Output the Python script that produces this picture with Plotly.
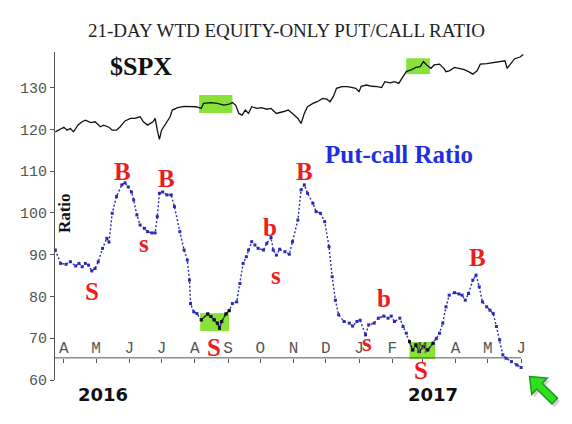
import plotly.graph_objects as go
import pandas as pd

# ---------------- data ----------------
pc_dates = [
    "2016-03-24", "2016-03-29", "2016-04-03", "2016-04-07", "2016-04-12", "2016-04-15",
    "2016-04-18", "2016-04-21", "2016-04-24", "2016-04-27", "2016-04-30", "2016-05-03",
    "2016-05-07", "2016-05-11", "2016-05-13", "2016-05-16", "2016-05-20", "2016-05-25",
    "2016-05-28", "2016-05-31", "2016-06-03", "2016-06-05", "2016-06-08", "2016-06-11",
    "2016-06-15", "2016-06-18", "2016-06-22", "2016-06-25", "2016-06-27", "2016-06-29",
    "2016-07-02", "2016-07-06", "2016-07-10", "2016-07-13", "2016-07-18", "2016-07-22",
    "2016-07-25", "2016-07-27", "2016-07-28", "2016-07-31", "2016-08-03", "2016-08-07",
    "2016-08-13", "2016-08-16", "2016-08-19", "2016-08-22", "2016-08-24", "2016-08-26",
    "2016-08-30", "2016-09-02", "2016-09-05", "2016-09-09", "2016-09-12", "2016-09-15",
    "2016-09-18", "2016-09-20", "2016-09-23", "2016-09-26", "2016-09-29", "2016-10-04",
    "2016-10-07", "2016-10-11", "2016-10-13", "2016-10-16", "2016-10-19", "2016-10-24",
    "2016-10-28", "2016-10-31", "2016-11-05", "2016-11-08", "2016-11-11", "2016-11-14",
    "2016-11-19", "2016-11-22", "2016-11-26", "2016-11-30", "2016-12-04", "2016-12-07",
    "2016-12-10", "2016-12-13", "2016-12-18", "2016-12-23", "2016-12-26", "2016-12-30",
    "2017-01-02", "2017-01-07", "2017-01-10", "2017-01-15", "2017-01-19", "2017-01-24",
    "2017-01-28", "2017-01-31", "2017-02-03", "2017-02-08", "2017-02-11", "2017-02-14",
    "2017-02-17", "2017-02-20", "2017-02-23", "2017-02-26", "2017-03-02", "2017-03-06",
    "2017-03-11", "2017-03-14", "2017-03-17", "2017-03-20", "2017-03-23", "2017-03-26",
    "2017-03-31", "2017-04-04", "2017-04-07", "2017-04-10", "2017-04-13", "2017-04-17",
    "2017-04-20", "2017-04-23", "2017-04-26", "2017-04-30", "2017-05-03", "2017-05-06",
    "2017-05-09", "2017-05-12", "2017-05-15", "2017-05-18", "2017-05-23", "2017-05-28",
    "2017-06-01",
]
pc_values = [
    91.1, 87.9, 87.7, 88.3, 87.3, 87.9,
    87.1, 87.9, 87.5, 86.1, 86.7, 88.3,
    91.5, 93.9, 93.0, 99.9, 103.9, 106.7,
    107.2, 106.2, 105.0, 103.1, 99.5, 97.1,
    96.3, 95.5, 95.2, 95.2, 99.1, 104.7,
    105.0, 104.3, 104.3, 101.5, 95.5, 91.1,
    88.7, 83.9, 78.3, 76.3, 75.9, 74.4,
    75.8, 75.2, 74.4, 73.6, 72.4, 74.0,
    75.8, 76.6, 78.3, 78.7, 83.1, 87.9,
    89.5, 91.1, 93.1, 92.3, 91.5, 91.1,
    92.7, 94.1, 91.1, 89.9, 91.3, 90.7,
    90.1, 93.1, 98.3, 105.5, 106.7, 104.7,
    102.3, 100.3, 99.9, 97.9, 91.9, 84.7,
    79.1, 75.6, 74.0, 73.6, 72.9, 74.0,
    74.3, 70.8, 73.2, 73.6, 74.8, 75.3,
    74.8, 75.3, 74.0, 74.8, 72.8, 71.2,
    69.2, 67.2, 68.4, 66.8, 68.0, 67.2,
    68.8, 69.9, 71.2, 73.6, 77.5, 80.3,
    80.9, 80.6, 80.3, 79.1, 80.7, 83.9,
    85.1, 82.3, 78.7, 77.5, 76.7, 75.9,
    72.8, 69.6, 66.0, 65.2, 64.4, 63.6,
    63.0,
]

spx_dates = [
    "2016-03-24", "2016-03-28", "2016-04-01", "2016-04-04", "2016-04-07", "2016-04-10",
    "2016-04-14", "2016-04-18", "2016-04-21", "2016-04-26", "2016-04-30", "2016-05-05",
    "2016-05-08", "2016-05-13", "2016-05-16", "2016-05-20", "2016-05-23", "2016-05-28",
    "2016-06-02", "2016-06-06", "2016-06-11", "2016-06-14", "2016-06-18", "2016-06-23",
    "2016-06-25", "2016-06-27", "2016-06-29", "2016-07-01", "2016-07-04", "2016-07-07",
    "2016-07-09", "2016-07-11", "2016-07-16", "2016-07-22", "2016-07-28", "2016-08-02",
    "2016-08-07", "2016-08-09", "2016-08-16", "2016-08-22", "2016-08-28", "2016-09-02",
    "2016-09-05", "2016-09-08", "2016-09-11", "2016-09-14", "2016-09-17", "2016-09-20",
    "2016-09-23", "2016-09-28", "2016-10-02", "2016-10-07", "2016-10-11", "2016-10-16",
    "2016-10-22", "2016-10-27", "2016-10-31", "2016-11-05", "2016-11-08", "2016-11-11",
    "2016-11-14", "2016-11-19", "2016-11-23", "2016-11-28", "2016-12-02", "2016-12-05",
    "2016-12-08", "2016-12-11", "2016-12-16", "2016-12-21", "2016-12-26", "2016-12-29",
    "2017-01-01", "2017-01-03", "2017-01-08", "2017-01-13", "2017-01-18", "2017-01-22",
    "2017-01-25", "2017-01-30", "2017-02-03", "2017-02-07", "2017-02-10", "2017-02-14",
    "2017-02-19", "2017-02-23", "2017-02-27", "2017-03-02", "2017-03-05", "2017-03-09",
    "2017-03-12", "2017-03-17", "2017-03-21", "2017-03-23", "2017-03-26", "2017-03-31",
    "2017-04-04", "2017-04-09", "2017-04-13", "2017-04-17", "2017-04-21", "2017-04-24",
    "2017-04-30", "2017-05-06", "2017-05-12", "2017-05-17", "2017-05-19", "2017-05-22",
    "2017-05-26", "2017-05-31", "2017-06-03",
]
spx_values = [
    119.4, 120.0, 120.5, 119.8, 120.2, 119.4,
    121.0, 121.8, 122.2, 121.6, 121.8, 120.6,
    121.0, 120.5, 119.8, 119.8, 120.5, 122.0,
    122.6, 122.6, 123.0, 121.8, 121.0, 121.8,
    122.6, 119.8, 117.6, 119.8, 121.0, 122.2,
    123.0, 124.6, 125.2, 125.5, 125.5, 125.4,
    125.0, 126.2, 126.4, 126.2, 125.8, 126.0,
    126.4, 125.8, 123.8, 123.4, 124.6, 123.8,
    125.4, 125.0, 125.2, 124.8, 125.0, 123.8,
    124.2, 124.6, 123.8, 122.6, 121.4, 123.8,
    125.4, 126.2, 126.6, 127.4, 127.2, 126.6,
    127.8, 129.8, 130.2, 130.2, 130.0, 129.8,
    129.0, 130.3, 130.6, 130.3, 130.2, 130.0,
    131.4, 131.1, 131.4, 131.0, 132.2, 133.8,
    134.3, 134.8, 135.0, 136.2, 135.4, 134.6,
    135.4, 135.6, 134.6, 133.8, 134.0, 134.8,
    134.6, 134.3, 133.8, 133.2, 134.0, 135.6,
    135.7, 135.9, 136.2, 136.4, 134.6, 135.7,
    136.9, 137.3, 137.9,
]

month_ticks = [
    "2016-04-01", "2016-05-01", "2016-06-01", "2016-07-01", "2016-08-01",
    "2016-09-01", "2016-10-01", "2016-11-01", "2016-12-01", "2017-01-01",
    "2017-02-01", "2017-03-01", "2017-04-01", "2017-05-01", "2017-06-01",
]
month_labels = ["A", "M", "J", "J", "A", "S", "O", "N", "D", "J", "F", "M", "A", "M", "J"]
y_ticks = [60, 70, 80, 90, 100, 110, 120, 130]

signal_labels = ["B", "B", "s", "S", "b", "s", "B", "B", "S", "s", "b", "S"]
signal_dates = [
    "2016-05-26", "2016-07-06", "2016-06-15", "2016-04-27", "2016-10-10", "2016-10-16",
    "2016-11-11", "2017-04-21", "2016-08-19", "2017-01-08", "2017-01-24", "2017-02-28",
]
signal_values = [109.8, 108.3, 92.6, 81.3, 96.6, 85.1, 109.8, 89.2, 67.7, 68.9, 79.4, 62.2]

# highlighted periods (green boxes)
pc_box_starts = ["2016-08-06", "2017-02-17"]
pc_box_ends = ["2016-09-02", "2017-03-13"]
pc_box_lows = [71.7, 65.0]
pc_box_highs = [76.0, 69.1]
spx_box_starts = ["2016-08-05", "2017-02-14"]
spx_box_ends = ["2016-09-05", "2017-03-08"]
spx_box_lows = [123.9, 133.2]
spx_box_highs = [128.2, 137.0]

year_labels = ["2016", "2017"]
year_dates = ["2016-05-07", "2017-03-11"]

# ---------------- styling constants ----------------
X_RANGE = ["2016-03-23 17:00", "2017-06-09 07:00"]
Y_RANGE = [60, 138.5]
MONTH_AXIS_LEVEL = 65.3
GREEN = "#88e23a"
RED = "#ee1c1c"
BLUE = "#2a2ab4"
GRAY = "#555555"
SERIF = "Liberation Serif, Times New Roman, serif"
MONO = "Liberation Mono, DejaVu Sans Mono, monospace"

# plot-area geometry (screen pixels) used only for placing the decorative arrow
PLOT_L, PLOT_W, PLOT_B, PLOT_H = 49, 481, 380, 328


def to_paper_path(points):
    parts = []
    for i, (px, py) in enumerate(points):
        xp = (px - PLOT_L) / PLOT_W
        yp = (PLOT_B - py) / PLOT_H
        parts.append(("M" if i == 0 else "L") + "%.4f,%.4f" % (xp, yp))
    return " ".join(parts) + " Z"


# arrow outline in screen pixels (tip at upper-left)
arrow_px = [(529.5, 376.5), (547.5, 378.0), (542.4, 383.3), (557.8, 398.1),
            (552.2, 403.9), (536.8, 389.1), (531.8, 394.5)]
shadow_px = [(x + 2.5, y + 3.0) for x, y in arrow_px]

fig = go.Figure()

shapes = []
for s, e, lo, hi in zip(pc_box_starts, pc_box_ends, pc_box_lows, pc_box_highs):
    shapes.append(dict(type="rect", xref="x", yref="y", x0=s, x1=e, y0=lo, y1=hi,
                       fillcolor=GREEN, line=dict(width=0), layer="below"))
for s, e, lo, hi in zip(spx_box_starts, spx_box_ends, spx_box_lows, spx_box_highs):
    shapes.append(dict(type="rect", xref="x", yref="y", x0=s, x1=e, y0=lo, y1=hi,
                       fillcolor=GREEN, line=dict(width=0), layer="below"))
shapes.append(dict(type="line", xref="x", yref="y", x0=X_RANGE[0], x1=month_ticks[-1],
                   y0=MONTH_AXIS_LEVEL, y1=MONTH_AXIS_LEVEL,
                   line=dict(color=GRAY, width=1), layer="below"))
shapes.append(dict(type="path", xref="paper", yref="paper", path=to_paper_path(shadow_px),
                   fillcolor="rgba(120,120,120,0.35)", line=dict(width=0), layer="above"))
shapes.append(dict(type="path", xref="paper", yref="paper", path=to_paper_path(arrow_px),
                   fillcolor="#2fe01f", line=dict(color="#1a9a1a", width=1.5), layer="above"))

# SPX line
fig.add_trace(go.Scatter(x=spx_dates, y=spx_values, mode="lines",
                         line=dict(color="#111111", width=1.3), hoverinfo="skip",
                         showlegend=False))
# Put/call ratio dotted line
fig.add_trace(go.Scatter(x=pc_dates, y=pc_values, mode="lines+markers",
                         line=dict(color=BLUE, width=1.4, dash="2px,2px"),
                         marker=dict(color=BLUE, size=3, symbol="square"),
                         hoverinfo="skip", showlegend=False))
# black segments inside green boxes
pc = pd.DataFrame({"d": pd.to_datetime(pc_dates), "v": pc_values})
for s, e in zip(pc_box_starts, pc_box_ends):
    seg = pc[(pc.d >= pd.Timestamp(s)) & (pc.d <= pd.Timestamp(e))]
    fig.add_trace(go.Scatter(x=seg.d, y=seg.v, mode="lines+markers",
                             line=dict(color="#111111", width=1.4, dash="2px,2px"),
                             marker=dict(color="#111111", size=3, symbol="square"),
                             hoverinfo="skip", showlegend=False))

annotations = []
for lab, d, v in zip(signal_labels, signal_dates, signal_values):
    annotations.append(dict(x=d, y=v, xref="x", yref="y", text="<b>%s</b>" % lab,
                            xanchor="center", yanchor="middle",
                            showarrow=False, font=dict(family=SERIF, size=25, color=RED)))
for lab, d in zip(year_labels, year_dates):
    annotations.append(dict(x=d, y=-0.043, xref="x", yref="paper", text="<b>%s</b>" % lab,
                            xanchor="center", yanchor="middle", showarrow=False,
                            font=dict(family="DejaVu Sans, sans-serif", size=18, color="#111111")))

annotations += [
    dict(x=0.4875, y=1.067, xref="paper", yref="paper", showarrow=False,
         xanchor="center", yanchor="middle",
         text="21-DAY WTD EQUITY-ONLY PUT/CALL RATIO",
         font=dict(family=SERIF, size=19, color="#222222")),
    dict(x=0.180, y=0.957, xref="paper", yref="paper", showarrow=False,
         xanchor="center", yanchor="middle",
         text="<b>$SPX</b>", font=dict(family=SERIF, size=26, color="#111111")),
    dict(x=0.7245, y=0.686, xref="paper", yref="paper", showarrow=False,
         xanchor="center", yanchor="middle",
         text="<b>Put-call Ratio</b>", font=dict(family=SERIF, size=25, color="#1f2fe0")),
    dict(x=0.019, y=0.509, xref="paper", yref="paper", showarrow=False, textangle=-90,
         xanchor="center", yanchor="middle",
         text="<b>Ratio</b>", font=dict(family=SERIF, size=17, color="#111111")),
]

# the page body adds an 8px offset, so the figure is 8px smaller than the window
fig.update_layout(
    width=564, height=416,
    margin=dict(l=41, r=42, t=44, b=44),
    paper_bgcolor="white", plot_bgcolor="white",
    shapes=shapes, annotations=annotations,
    xaxis=dict(type="date", range=X_RANGE, anchor="free",
               position=(MONTH_AXIS_LEVEL - Y_RANGE[0]) / (Y_RANGE[1] - Y_RANGE[0]),
               side="top", tickmode="array", tickvals=month_ticks, ticktext=month_labels,
               ticks="inside", ticklen=4, tickcolor=GRAY, showline=False, showgrid=False,
               zeroline=False, ticklabelstandoff=2,
               tickfont=dict(family=MONO, size=16, color=GRAY)),
    yaxis=dict(range=Y_RANGE, tickmode="array", tickvals=y_ticks, ticks="outside",
               ticklen=4, tickcolor=GRAY, showline=True, linecolor=GRAY, linewidth=1,
               showgrid=False, zeroline=False,
               tickfont=dict(family=MONO, size=15, color=GRAY)),
)

fig.write_html("out.html")
